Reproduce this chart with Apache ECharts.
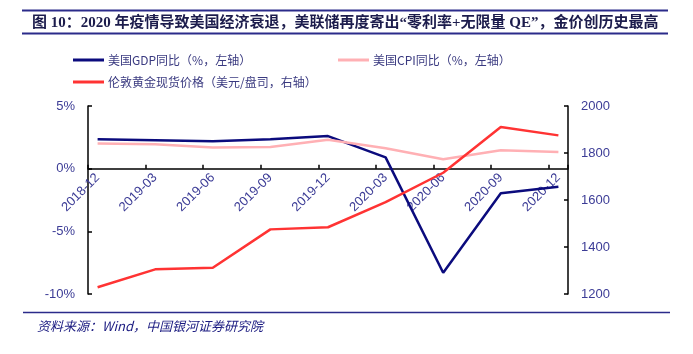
<!DOCTYPE html>
<html>
<head>
<meta charset="utf-8">
<script src="https://cdn.jsdelivr.net/npm/echarts@6/dist/echarts.min.js"></script>
<style>
html,body{margin:0;padding:0;background:#fff;}
#main{width:693px;height:354px;}
</style>
</head>
<body>
<div id="main"></div>
<script>
// 季度标签
var quarters = ['2018-12','2019-03','2019-06','2019-09','2019-12','2020-03','2020-06','2020-09','2020-12'];
// 自2018-12起的月数
var months = [0,3,6,9,12,15,18,21,24];
// 美国GDP同比(%)
var gdp = [2.35,2.27,2.19,2.35,2.6,0.9,-8.3,-1.96,-1.44];
// 美国CPI同比(%)
var cpi = [2.0,1.95,1.68,1.73,2.3,1.63,0.75,1.47,1.33];
// 伦敦黄金现货价格(美元/盎司)
var gold = [1229,1305,1312,1475,1484,1591,1716,1911,1875];

var names = ['美国GDP同比（%，左轴）','美国CPI同比（%，左轴）','伦敦黄金现货价格（美元/盘司，右轴）'];
var labelColor = '#3c3c96';
var fontLatin = 'Liberation Sans, Arial, sans-serif';
var fontCJK = 'Noto Sans CJK SC, sans-serif';

var gridTop = 106, gridBottom = 60, gridH = 354 - gridTop - gridBottom;
var leftMin = -10, leftMax = 5;

function pairs(arr){
    var out = [];
    for(var i=0;i<arr.length;i++){
        out.push([months[i], arr[i]]);
    }
    return out;
}

function legendItem(name, left, top){
    return {
        data:[name],
        left:left,
        top:top,
        icon:'rect',
        itemWidth:31,
        itemHeight:3,
        itemGap:0,
        selectedMode:false,
        textStyle:{color:'#3a3a80', fontSize:12, fontFamily:fontCJK, padding:[0,0,0,-1]}
    };
}

var myChart = echarts.init(document.getElementById('main'));
var option = {
    animation:false,
    backgroundColor:'#fff',
    title:[
        {
            text:'图 10：2020 年疫情导致美国经济衰退，美联储再度寄出“零利率+无限量 QE”，金价创历史最高',
            left:27,
            top:11,
            textStyle:{color:'#1c1c4c', fontSize:15, fontWeight:'bold', fontFamily:'Liberation Serif, Noto Sans CJK SC, serif'}
        },
        {
            text:'资料来源：Wind，中国银河证券研究院',
            left:32,
            top:315,
            textStyle:{color:'#1a1a80', fontSize:13, fontStyle:'italic', fontWeight:'normal', fontFamily:fontCJK}
        }
    ],
    graphic:[
        {type:'line', shape:{x1:22, y1:10.5, x2:668, y2:10.5}, style:{stroke:'#2b2b8a', lineWidth:2}},
        {type:'line', shape:{x1:22, y1:33.5, x2:668, y2:33.5}, style:{stroke:'#2b2b8a', lineWidth:2}},
        {type:'line', shape:{x1:23, y1:312.5, x2:670, y2:312.5}, style:{stroke:'#2b2b8a', lineWidth:1.5}}
    ],
    legend:[
        legendItem(names[0], 68, 49),
        legendItem(names[1], 333, 49),
        legendItem(names[2], 68, 71)
    ],
    grid:{left:88, right:125, top:gridTop, bottom:gridBottom, containLabel:false},
    xAxis:[
        {
            type:'value',
            min:0,
            max:25,
            interval:3,
            position:'bottom',
            axisLine:{onZero:true, onZeroAxisIndex:0, lineStyle:{color:'#000', width:1.5}},
            axisTick:{inside:true, length:4, lineStyle:{color:'#000', width:1.5}},
            axisLabel:{show:false},
            splitLine:{show:false}
        },
        {
            // 标签轴：放在0%处
            type:'value',
            min:-0.5,
            max:24.5,
            splitNumber:8,
            position:'bottom',
            offset:-gridH * (0 - leftMin) / (leftMax - leftMin),
            axisLine:{show:false, onZero:false},
            axisTick:{show:false},
            axisLabel:{
                rotate:45,
                margin:7,
                color:labelColor,
                fontSize:13,
                fontFamily:fontLatin,
                showMinLabel:false,
                showMaxLabel:false,
                formatter:function(v){
                    var i = months.indexOf(v);
                    return i >= 0 ? quarters[i] : '';
                }
            },
            splitLine:{show:false}
        }
    ],
    yAxis:[
        {
            type:'value',
            min:leftMin,
            max:leftMax,
            interval:5,
            position:'left',
            axisLine:{show:true, onZero:false, lineStyle:{color:'#000', width:1.5}},
            axisTick:{show:true, inside:true, length:4, lineStyle:{color:'#000', width:1.5}},
            axisLabel:{color:labelColor, fontSize:13, fontFamily:fontLatin, margin:13, formatter:'{value}%'},
            splitLine:{show:false}
        },
        {
            type:'value',
            min:1200,
            max:2000,
            interval:200,
            position:'right',
            axisLine:{show:true, onZero:false, lineStyle:{color:'#000', width:1.5}},
            axisTick:{show:true, inside:true, length:4, lineStyle:{color:'#000', width:1.5}},
            axisLabel:{color:labelColor, fontSize:13, fontFamily:fontLatin, margin:13, formatter:function(v){ return String(v); }},
            splitLine:{show:false}
        }
    ],
    series:[
        {
            name:names[0],
            type:'line',
            xAxisIndex:1,
            yAxisIndex:0,
            data:pairs(gdp),
            symbol:'none',
            color:'#0b0b7d',
            lineStyle:{color:'#0b0b7d', width:2.5}
        },
        {
            name:names[1],
            type:'line',
            xAxisIndex:1,
            yAxisIndex:0,
            data:pairs(cpi),
            symbol:'none',
            color:'#ffb0b4',
            lineStyle:{color:'#ffb0b4', width:2.5}
        },
        {
            name:names[2],
            type:'line',
            xAxisIndex:1,
            yAxisIndex:1,
            data:pairs(gold),
            symbol:'none',
            color:'#ff3333',
            lineStyle:{color:'#ff3333', width:2.5}
        }
    ]
};
myChart.setOption(option);
</script>
</body>
</html>
